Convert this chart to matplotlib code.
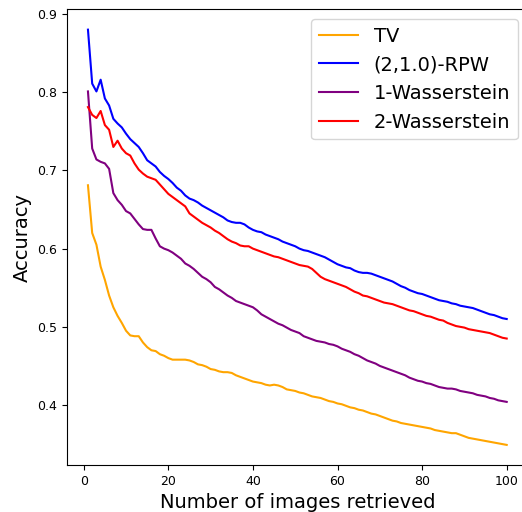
import matplotlib
matplotlib.use("Agg")
import matplotlib.pyplot as plt

n_retrieved = list(range(1, 101))

tv = [0.681, 0.620, 0.605, 0.577, 0.560, 0.540, 0.525, 0.514, 0.505, 0.495,
      0.489, 0.488, 0.488, 0.480, 0.474, 0.470, 0.469, 0.465, 0.463, 0.460,
      0.458, 0.458, 0.458, 0.458, 0.457, 0.455, 0.452, 0.451, 0.449, 0.446,
      0.445, 0.443, 0.442, 0.442, 0.441, 0.438, 0.436, 0.434, 0.432, 0.430,
      0.429, 0.428, 0.426, 0.425, 0.426, 0.425, 0.423, 0.420, 0.419, 0.418,
      0.416, 0.415, 0.413, 0.411, 0.410, 0.409, 0.407, 0.405, 0.404, 0.402,
      0.401, 0.399, 0.397, 0.396, 0.394, 0.393, 0.391, 0.389, 0.388, 0.386,
      0.384, 0.382, 0.380, 0.379, 0.377, 0.376, 0.375, 0.374, 0.373, 0.372,
      0.371, 0.370, 0.368, 0.367, 0.366, 0.365, 0.364, 0.364, 0.362, 0.360,
      0.358, 0.357, 0.356, 0.355, 0.354, 0.353, 0.352, 0.351, 0.350, 0.349]

rpw = [0.880, 0.811, 0.801, 0.816, 0.792, 0.783, 0.766, 0.760, 0.755, 0.747,
       0.740, 0.735, 0.730, 0.722, 0.713, 0.709, 0.705, 0.698, 0.693, 0.689,
       0.684, 0.678, 0.674, 0.668, 0.664, 0.662, 0.659, 0.655, 0.652, 0.649,
       0.646, 0.643, 0.640, 0.636, 0.634, 0.633, 0.633, 0.631, 0.627, 0.624,
       0.622, 0.621, 0.618, 0.616, 0.614, 0.612, 0.609, 0.607, 0.605, 0.603,
       0.600, 0.598, 0.597, 0.595, 0.593, 0.591, 0.589, 0.586, 0.583, 0.580,
       0.578, 0.576, 0.575, 0.572, 0.570, 0.569, 0.569, 0.568, 0.566, 0.564,
       0.562, 0.560, 0.558, 0.555, 0.552, 0.550, 0.547, 0.545, 0.543, 0.542,
       0.540, 0.538, 0.536, 0.534, 0.533, 0.532, 0.530, 0.529, 0.527, 0.526,
       0.525, 0.524, 0.522, 0.520, 0.518, 0.516, 0.515, 0.513, 0.511, 0.510]

w1 = [0.801, 0.728, 0.714, 0.711, 0.709, 0.702, 0.671, 0.662, 0.656, 0.648,
      0.645, 0.638, 0.631, 0.625, 0.624, 0.624, 0.613, 0.603, 0.600, 0.598,
      0.595, 0.591, 0.587, 0.581, 0.578, 0.574, 0.569, 0.564, 0.561, 0.557,
      0.551, 0.548, 0.544, 0.540, 0.537, 0.533, 0.531, 0.529, 0.527, 0.525,
      0.521, 0.516, 0.513, 0.510, 0.507, 0.504, 0.502, 0.499, 0.496, 0.494,
      0.492, 0.488, 0.486, 0.484, 0.482, 0.481, 0.480, 0.478, 0.477, 0.475,
      0.472, 0.470, 0.468, 0.465, 0.463, 0.460, 0.457, 0.455, 0.453, 0.450,
      0.448, 0.446, 0.444, 0.442, 0.440, 0.438, 0.435, 0.433, 0.431, 0.430,
      0.428, 0.427, 0.425, 0.423, 0.422, 0.421, 0.421, 0.420, 0.418, 0.417,
      0.416, 0.415, 0.413, 0.412, 0.411, 0.409, 0.408, 0.406, 0.405, 0.404]

w2 = [0.781, 0.771, 0.767, 0.776, 0.758, 0.752, 0.730, 0.738, 0.728, 0.722,
      0.719, 0.709, 0.701, 0.696, 0.692, 0.690, 0.688, 0.682, 0.676, 0.670,
      0.666, 0.662, 0.658, 0.654, 0.645, 0.641, 0.637, 0.633, 0.630, 0.627,
      0.623, 0.620, 0.616, 0.612, 0.609, 0.607, 0.604, 0.603, 0.603, 0.600,
      0.598, 0.596, 0.594, 0.592, 0.590, 0.589, 0.587, 0.585, 0.583, 0.581,
      0.579, 0.578, 0.577, 0.574, 0.569, 0.564, 0.561, 0.559, 0.557, 0.555,
      0.553, 0.551, 0.548, 0.545, 0.543, 0.540, 0.539, 0.537, 0.535, 0.533,
      0.531, 0.530, 0.529, 0.527, 0.525, 0.523, 0.521, 0.520, 0.518, 0.516,
      0.514, 0.513, 0.511, 0.509, 0.508, 0.505, 0.503, 0.501, 0.500, 0.499,
      0.497, 0.496, 0.495, 0.494, 0.493, 0.492, 0.490, 0.488, 0.486, 0.485]

fig = plt.figure(figsize=(5.22, 5.12), dpi=100)
ax = fig.add_axes([0.1284, 0.0918, 0.8824, 0.8906])

ax.plot(n_retrieved, tv, color='orange', label='TV')
ax.plot(n_retrieved, rpw, color='blue', label='(2,1.0)-RPW')
ax.plot(n_retrieved, w1, color='purple', label='1-Wasserstein')
ax.plot(n_retrieved, w2, color='red', label='2-Wasserstein')

ax.set_xlim(-3.95, 104.95)
ax.set_ylim(0.3233, 0.9064)
ax.set_yticks([0.4, 0.5, 0.6, 0.7, 0.8, 0.9])
ax.tick_params(labelsize=9)

ax.set_xlabel('Number of images retrieved', fontsize=14)
ax.set_ylabel('Accuracy', fontsize=14)
ax.legend(loc='upper right', fontsize=14)

fig.savefig('out.png', dpi=100)
